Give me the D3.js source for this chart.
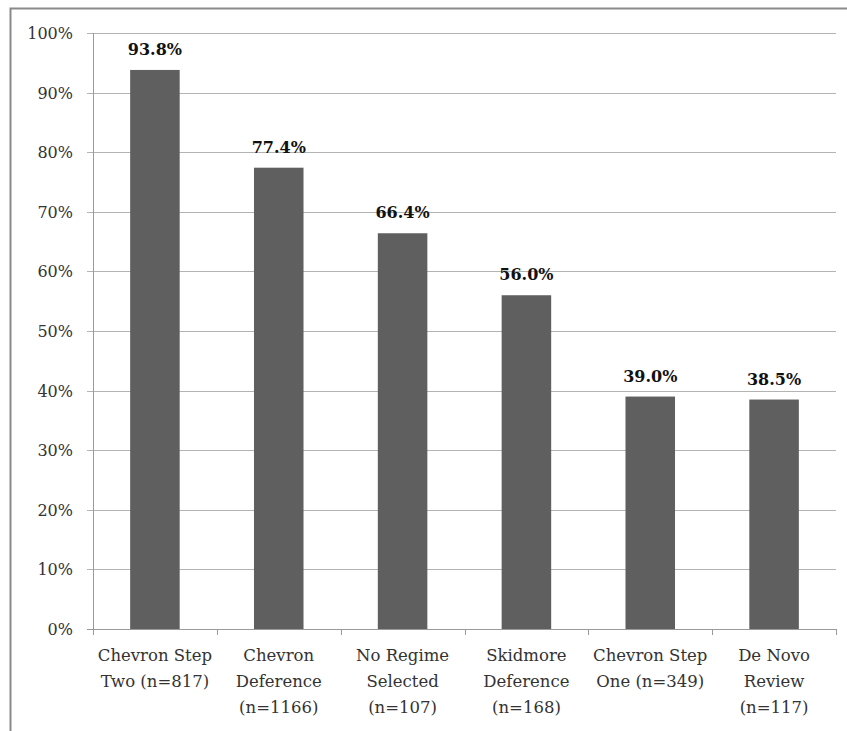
<!DOCTYPE html>
<html>
<head>
<meta charset="utf-8">
<script src="https://cdn.jsdelivr.net/npm/d3@7"></script>
<style>
  body { margin: 0; background: #fff; }
  svg { display: block; }
  text { font-family: 'DejaVu Serif', serif; }
</style>
</head>
<body>
<svg id="chart" width="847" height="731"></svg>
<script>
const categories = [
  ['Chevron Step', 'Two (n=817)'],
  ['Chevron', 'Deference', '(n=1166)'],
  ['No Regime', 'Selected', '(n=107)'],
  ['Skidmore', 'Deference', '(n=168)'],
  ['Chevron Step', 'One (n=349)'],
  ['De Novo', 'Review', '(n=117)']
];
const values = [93.8, 77.4, 66.4, 56.0, 39.0, 38.5];
const yTicks = [0, 10, 20, 30, 40, 50, 60, 70, 80, 90, 100];

const svg = d3.select('#chart');
const plotL = 93, plotR = 836, plotT = 33, plotB = 629;

// outer frame, runs off the right and bottom of the picture
svg.append('path')
  .attr('d', 'M10.5,740V8.5H860')
  .attr('fill', 'none')
  .attr('stroke', '#8a8a8a')
  .attr('stroke-width', 2);

const idx = d3.range(categories.length);
const x = d3.scaleBand().domain(idx).range([plotL, plotR]).paddingInner(0.6).paddingOuter(0.3);
const xb = d3.scaleBand().domain(idx).range([plotL, plotR]);
const y = d3.scaleLinear().domain([0, 100]).range([plotB, plotT]);

// gridlines + y ticks
svg.append('g').selectAll('line')
  .data(yTicks)
  .join('line')
  .attr('x1', plotL - 6).attr('x2', plotR)
  .attr('y1', d => Math.round(y(d)) + 0.5).attr('y2', d => Math.round(y(d)) + 0.5)
  .attr('stroke', d => d === 0 ? '#9a9a9a' : '#b3b3b3')
  .attr('stroke-width', 1);

svg.append('g').selectAll('text')
  .data(yTicks)
  .join('text')
  .attr('x', 73)
  .attr('y', d => y(d) + 6)
  .attr('text-anchor', 'end')
  .attr('font-size', 16)
  .attr('fill', '#333')
  .text(d => d + '%');

// y axis line
svg.append('line')
  .attr('x1', plotL + 0.5).attr('x2', plotL + 0.5)
  .attr('y1', plotT).attr('y2', plotB)
  .attr('stroke', '#9a9a9a');

// x category ticks
svg.append('g').selectAll('line')
  .data(idx.concat([idx.length]))
  .join('line')
  .attr('x1', d => Math.round(d < idx.length ? xb(d) : plotR) + 0.5)
  .attr('x2', d => Math.round(d < idx.length ? xb(d) : plotR) + 0.5)
  .attr('y1', plotB).attr('y2', plotB + 6)
  .attr('stroke', '#9a9a9a');

// bars
svg.append('g').selectAll('rect')
  .data(values)
  .join('rect')
  .attr('x', (d, i) => x(i))
  .attr('width', x.bandwidth())
  .attr('y', d => y(d))
  .attr('height', d => plotB - y(d))
  .attr('fill', '#5f5f5f');

// value labels
svg.append('g').selectAll('text')
  .data(values)
  .join('text')
  .attr('x', (d, i) => x(i) + x.bandwidth() / 2)
  .attr('y', d => y(d) - 15)
  .attr('text-anchor', 'middle')
  .attr('font-weight', 'bold')
  .attr('font-size', 16)
  .attr('fill', '#111')
  .text(d => d.toFixed(1) + '%');

// category labels
const cat = svg.append('g').selectAll('text')
  .data(categories)
  .join('text')
  .attr('text-anchor', 'middle')
  .attr('font-size', 16.5)
  .attr('fill', '#333');
cat.each(function (lines, i) {
  d3.select(this).selectAll('tspan')
    .data(lines)
    .join('tspan')
    .attr('x', xb(i) + xb.bandwidth() / 2)
    .attr('y', (l, j) => 661 + j * 26)
    .text(l => l);
});
</script>
</body>
</html>
